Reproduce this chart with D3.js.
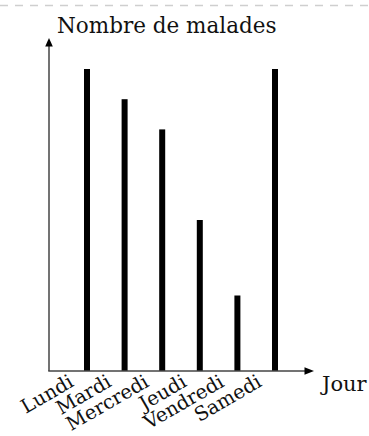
<!DOCTYPE html>
<html>
<head>
<meta charset="utf-8">
<script src="https://cdn.jsdelivr.net/npm/d3@7"></script>
<style>
  html, body { margin: 0; padding: 0; background: #fff; }
  svg { display: block; }
  text { font-family: "DejaVu Serif", serif; fill: #111; }
</style>
</head>
<body>
<svg id="chart" width="369" height="436"></svg>
<script>
const categories = ["Lundi", "Mardi", "Mercredi", "Jeudi", "Vendredi", "Samedi"];
const malades = [40, 36, 32, 20, 10, 40];
const yLabel = "Nombre de malades";
const xLabel = "Jour";

const svg = d3.select("#chart");
const W = 369, H = 436;

// top dashed separator
svg.append("line")
  .attr("x1", 0).attr("x2", W).attr("y1", 5.5).attr("y2", 5.5)
  .attr("stroke", "#cfcfcf").attr("stroke-width", 1.5)
  .attr("stroke-dasharray", "8,7");

const originX = 49, originY = 371;
const x = d3.scalePoint().domain(categories).range([87, 275]);
const y = d3.scaleLinear().domain([0, 40]).range([originY, 69]);

// bars
svg.selectAll("rect.bar").data(categories).enter().append("rect")
  .attr("class", "bar")
  .attr("x", d => x(d) - 3)
  .attr("width", 6)
  .attr("y", (d, i) => y(malades[i]))
  .attr("height", (d, i) => originY - y(malades[i]))
  .attr("fill", "#000");

// axes
svg.append("line")
  .attr("x1", originX).attr("y1", originY).attr("x2", originX).attr("y2", 44)
  .attr("stroke", "#444").attr("stroke-width", 1.5);
svg.append("line")
  .attr("x1", originX - 0.75).attr("y1", originY).attr("x2", 306).attr("y2", originY)
  .attr("stroke", "#444").attr("stroke-width", 1.5);

// arrow heads
svg.append("path")
  .attr("d", `M${originX},38 L${originX - 3.8},46.5 L${originX + 3.8},46.5 Z`)
  .attr("fill", "#000");
svg.append("path")
  .attr("d", `M314,${originY} L304.5,${originY - 3.8} L304.5,${originY + 3.8} Z`)
  .attr("fill", "#000");

// axis titles
svg.append("text")
  .attr("x", 57).attr("y", 33)
  .attr("font-size", 21.5)
  .text(yLabel);
svg.append("text")
  .attr("x", 322).attr("y", 391)
  .attr("font-size", 21)
  .text(xLabel);

// rotated tick labels
svg.selectAll("text.tick").data(categories).enter().append("text")
  .attr("class", "tick")
  .attr("font-size", 19.5)
  .attr("text-anchor", "end")
  .attr("transform", d => `translate(${x(d) - 12},${originY + 14.5}) rotate(-30)`)
  .text(d => d);
</script>
</body>
</html>
